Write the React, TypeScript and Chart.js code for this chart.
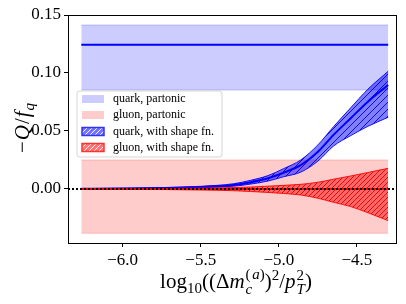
import React, { useEffect, useRef } from 'react';
import { Chart, registerables } from 'chart.js';

Chart.register(...registerables);

// ---------- data ----------
const xRange = [-6.35, -4.25];
const yRange = [-0.0466, 0.15];
const xTicks = [-6.0, -5.5, -5.0, -4.5];
const yTicks = [0.0, 0.05, 0.1, 0.15];

const partonicX = [-6.265, -4.3];
const quarkPartonic = [0.1244, 0.1244];
const quarkPartonicUpper = [0.1414, 0.1414];
const quarkPartonicLower = [0.0853, 0.0853];
const gluonPartonic = [0.0, 0.0];
const gluonPartonicUpper = [0.025, 0.025];
const gluonPartonicLower = [-0.0382, -0.0382];

const shapeX = [-6.265, -6.0, -5.75, -5.5, -5.29, -5.18, -5.07, -4.97, -4.86, -4.75, -4.65, -4.54, -4.43, -4.3];
const quarkShape = [0.0002, 0.0004, 0.0008, 0.0017, 0.0034, 0.0058, 0.0092, 0.014, 0.0205, 0.032, 0.0466, 0.061, 0.0753, 0.0897];
const quarkShapeUpper = [0.0003, 0.0006, 0.0011, 0.0023, 0.0045, 0.0075, 0.0115, 0.0175, 0.025, 0.038, 0.0537, 0.07, 0.086, 0.1015];
const quarkShapeLower = [0.0001, 0.0002, 0.0005, 0.0011, 0.0024, 0.0042, 0.0068, 0.0105, 0.0145, 0.024, 0.037, 0.046, 0.054, 0.0618];
const gluonShape = [0, 0, 0, 0, 0, 0, 0, 0, 0, 0, 0, 0, 0, 0];
const gluonShapeUpper = [0.0001, 0.0002, 0.0004, 0.0007, 0.0012, 0.0017, 0.0024, 0.0031, 0.004, 0.0058, 0.0084, 0.0112, 0.0142, 0.0178];
const gluonShapeLower = [-0.0001, -0.0002, -0.0005, -0.0009, -0.0015, -0.0022, -0.003, -0.0039, -0.0052, -0.008, -0.0115, -0.0152, -0.0205, -0.0273];
const zeroLine = [0, 0];

const legendLabels = ['quark, partonic', 'gluon, partonic', 'quark, with shape fn.', 'gluon, with shape fn.'];

// ---------- helpers ----------
const SERIF = "'Liberation Serif', 'Times New Roman', serif";

function zip(xs: number[], ys: number[]) {
  return xs.map((x, i) => ({ x, y: ys[i] }));
}

function fmt(v: number, d: number) {
  return (v < 0 ? '\u2212' : '') + Math.abs(v).toFixed(d);
}

function hatch(size: number, base: string, line: string, lw: number) {
  const c = document.createElement('canvas');
  c.width = size;
  c.height = size;
  const g = c.getContext('2d')!;
  g.fillStyle = base;
  g.fillRect(0, 0, size, size);
  g.strokeStyle = line;
  g.lineWidth = lw;
  g.beginPath();
  g.moveTo(0, size);
  g.lineTo(size, 0);
  g.moveTo(-2, 2);
  g.lineTo(2, -2);
  g.moveTo(size - 2, size + 2);
  g.lineTo(size + 2, size - 2);
  g.stroke();
  const ctx = document.createElement('canvas').getContext('2d')!;
  return ctx.createPattern(c, 'repeat')!;
}

type Seg = { t: string; it?: boolean; k: number; dy: number; noAdv?: boolean; gap?: number };

function drawRich(ctx: CanvasRenderingContext2D, segs: Seg[], size: number, cx: number, baseY: number) {
  const font = (s: Seg) => `${s.it ? 'italic ' : ''}${Math.round(size * s.k)}px ${SERIF}`;
  const widths: number[] = [];
  let total = 0;
  let pending = 0;
  segs.forEach((s) => {
    ctx.font = font(s);
    const w = ctx.measureText(s.t).width;
    widths.push(w);
    if (s.noAdv) {
      pending = w;
    } else {
      total += Math.max(w, pending) + (s.gap || 0);
      pending = 0;
    }
  });
  let x = cx - total / 2;
  pending = 0;
  segs.forEach((s, i) => {
    ctx.font = font(s);
    ctx.fillText(s.t, x, baseY + s.dy * size);
    if (s.noAdv) {
      pending = widths[i];
    } else {
      x += Math.max(widths[i], pending) + (s.gap || 0);
      pending = 0;
    }
  });
}

const xLabelSegs: Seg[] = [
  { t: 'log', k: 1, dy: 0 },
  { t: '10', k: 0.7, dy: 0.22 },
  { t: '((\u0394', k: 1, dy: 0 },
  { t: 'm', it: true, k: 1, dy: 0, gap: 1 },
  { t: 'c', it: true, k: 0.7, dy: 0.3, noAdv: true },
  { t: '(', k: 0.7, dy: -0.45 },
  { t: 'a', it: true, k: 0.7, dy: -0.45 },
  { t: ')', k: 0.7, dy: -0.45 },
  { t: ')', k: 1, dy: 0 },
  { t: '2', k: 0.7, dy: -0.4 },
  { t: '/', k: 1, dy: 0 },
  { t: 'p', it: true, k: 1, dy: 0, gap: 1 },
  { t: 'T', it: true, k: 0.7, dy: 0.3, noAdv: true },
  { t: '2', k: 0.7, dy: -0.4 },
  { t: ')', k: 1, dy: 0 },
];

const yLabelSegs: Seg[] = [
  { t: '\u2212', k: 1, dy: 0, gap: 1 },
  { t: 'Q', it: true, k: 1, dy: 0, gap: 1 },
  { t: '/', k: 1, dy: 0, gap: 1 },
  { t: 'f', it: true, k: 1, dy: 0, gap: 1 },
  { t: 'q', it: true, k: 0.7, dy: 0.22 },
];

export default function App() {
  const ref = useRef<HTMLCanvasElement>(null);

  useEffect(() => {
    if (!ref.current) return;
    const qHatch = hatch(7, 'rgba(0,0,255,0.5)', 'rgba(0,0,220,0.9)', 1);
    const gHatch = hatch(5, 'rgba(255,0,0,0.5)', 'rgba(230,0,0,0.9)', 1);
    const qLegend = hatch(5, 'rgba(70,70,255,0.75)', 'rgba(255,255,255,0.9)', 1);
    const gLegend = hatch(5, 'rgba(255,70,70,0.75)', 'rgba(255,255,255,0.9)', 1);

    const base = { pointRadius: 0, borderJoinStyle: 'round' as const };

    const datasets: any[] = [
      // top-most first
      { ...base, data: zip(xRange, zeroLine), borderColor: '#000', borderWidth: 2, borderDash: [2, 2], fill: false },
      { ...base, data: zip(shapeX, gluonShape), borderColor: 'rgb(255,0,0)', borderWidth: 1.5, fill: false },
      { ...base, data: zip(shapeX, gluonShapeUpper), borderColor: 'rgba(255,0,0,0.9)', borderWidth: 1, backgroundColor: gHatch, fill: '+1', cubicInterpolationMode: 'monotone' },
      { ...base, data: zip(shapeX, gluonShapeLower), borderColor: 'rgba(255,0,0,0.9)', borderWidth: 1, fill: false, cubicInterpolationMode: 'monotone' },
      { ...base, data: zip(shapeX, quarkShape), borderColor: 'rgb(0,0,255)', borderWidth: 2, fill: false, cubicInterpolationMode: 'monotone' },
      { ...base, data: zip(shapeX, quarkShapeUpper), borderColor: 'rgba(0,0,255,0.9)', borderWidth: 1, backgroundColor: qHatch, fill: '+1', cubicInterpolationMode: 'monotone' },
      { ...base, data: zip(shapeX, quarkShapeLower), borderColor: 'rgba(0,0,255,0.9)', borderWidth: 1, fill: false, cubicInterpolationMode: 'monotone' },
      { ...base, data: zip(partonicX, gluonPartonic), borderColor: 'rgb(255,0,0)', borderWidth: 1.5, fill: false },
      { ...base, data: zip(partonicX, gluonPartonicUpper), borderColor: 'rgba(255,0,0,0.2)', borderWidth: 1, backgroundColor: 'rgba(255,0,0,0.2)', fill: '+1' },
      { ...base, data: zip(partonicX, gluonPartonicLower), borderColor: 'rgba(255,0,0,0.2)', borderWidth: 1, fill: false },
      { ...base, data: zip(partonicX, quarkPartonic), borderColor: 'rgb(0,0,255)', borderWidth: 2, fill: false },
      { ...base, data: zip(partonicX, quarkPartonicUpper), borderColor: 'rgba(0,0,255,0.2)', borderWidth: 1, backgroundColor: 'rgba(0,0,255,0.2)', fill: '+1' },
      { ...base, data: zip(partonicX, quarkPartonicLower), borderColor: 'rgba(0,0,255,0.2)', borderWidth: 1, fill: false },
    ];

    const decor = {
      id: 'decor',
      afterDraw(chart: any) {
        const { ctx, chartArea: a } = chart;
        ctx.save();
        // frame
        ctx.strokeStyle = '#000';
        ctx.lineWidth = 1;
        ctx.strokeRect(Math.round(a.left) + 0.5, Math.round(a.top) + 0.5, Math.round(a.right - a.left), Math.round(a.bottom - a.top));

        // legend
        const lx = 77, ly = 91, lw = 145, lh = 66, r = 3;
        ctx.beginPath();
        ctx.moveTo(lx + r, ly);
        ctx.arcTo(lx + lw, ly, lx + lw, ly + lh, r);
        ctx.arcTo(lx + lw, ly + lh, lx, ly + lh, r);
        ctx.arcTo(lx, ly + lh, lx, ly, r);
        ctx.arcTo(lx, ly, lx + lw, ly, r);
        ctx.closePath();
        ctx.fillStyle = 'rgba(255,255,255,0.8)';
        ctx.fill();
        ctx.strokeStyle = 'rgba(204,204,204,0.8)';
        ctx.lineWidth = 1;
        ctx.stroke();

        const rows = [99, 115, 131.5, 147.5];
        const fills: any[] = ['rgba(0,0,255,0.2)', 'rgba(255,0,0,0.2)', qLegend, gLegend];
        const borders = [null, null, 'rgb(50,50,255)', 'rgb(255,50,50)'];
        rows.forEach((cy, i) => {
          const px = 82, pw = 22, ph = 8;
          ctx.fillStyle = fills[i];
          ctx.fillRect(px, cy - ph / 2, pw, ph);
          if (borders[i]) {
            ctx.strokeStyle = borders[i];
            ctx.lineWidth = 1.5;
            ctx.strokeRect(px, cy - ph / 2, pw, ph);
          }
          ctx.fillStyle = '#000';
          ctx.font = `12px ${SERIF}`;
          ctx.textBaseline = 'middle';
          ctx.textAlign = 'left';
          ctx.fillText(legendLabels[i], 113, cy);
        });

        // axis titles
        ctx.fillStyle = '#000';
        ctx.textBaseline = 'alphabetic';
        ctx.textAlign = 'left';
        drawRich(ctx, xLabelSegs, 21, 236, 288);

        ctx.save();
        ctx.translate(29, 128);
        ctx.rotate(-Math.PI / 2);
        drawRich(ctx, yLabelSegs, 21, 0, 0);
        ctx.restore();

        ctx.restore();
      },
    };

    const chart = new Chart(ref.current, {
      type: 'line',
      data: { datasets },
      plugins: [decor],
      options: {
        animation: false,
        responsive: false,
        devicePixelRatio: 1,
        layout: { padding: { top: 15, right: 10, left: 0, bottom: 0 } },
        plugins: { legend: { display: false }, tooltip: { enabled: false } },
        scales: {
          x: {
            type: 'linear',
            min: xRange[0],
            max: xRange[1],
            afterBuildTicks: (s: any) => {
              s.ticks = xTicks.map((v) => ({ value: v }));
            },
            afterFit: (s: any) => {
              s.height = 61;
            },
            border: { display: false },
            grid: { display: true, drawOnChartArea: false, drawTicks: true, tickLength: 4, color: '#000', tickWidth: 1 },
            ticks: {
              color: '#000',
              padding: 3,
              maxRotation: 0,
              autoSkip: false,
              font: { family: SERIF, size: 17 },
              callback: (v: any) => fmt(Number(v), 1),
            },
          },
          y: {
            type: 'linear',
            min: yRange[0],
            max: yRange[1],
            afterBuildTicks: (s: any) => {
              s.ticks = yTicks.map((v) => ({ value: v }));
            },
            afterFit: (s: any) => {
              s.width = 68;
            },
            border: { display: false },
            grid: { display: true, drawOnChartArea: false, drawTicks: true, tickLength: 4, color: '#000', tickWidth: 1 },
            ticks: {
              color: '#000',
              padding: 3,
              autoSkip: false,
              font: { family: SERIF, size: 17 },
              callback: (v: any) => fmt(Number(v), 2),
            },
          },
        },
      } as any,
    });
    return () => chart.destroy();
  }, []);

  return (
    <div style={{ position: 'absolute', left: 0, top: 0, width: 406, height: 304, background: '#fff' }}>
      <canvas ref={ref} width={406} height={304} style={{ display: 'block' }} />
    </div>
  );
}
